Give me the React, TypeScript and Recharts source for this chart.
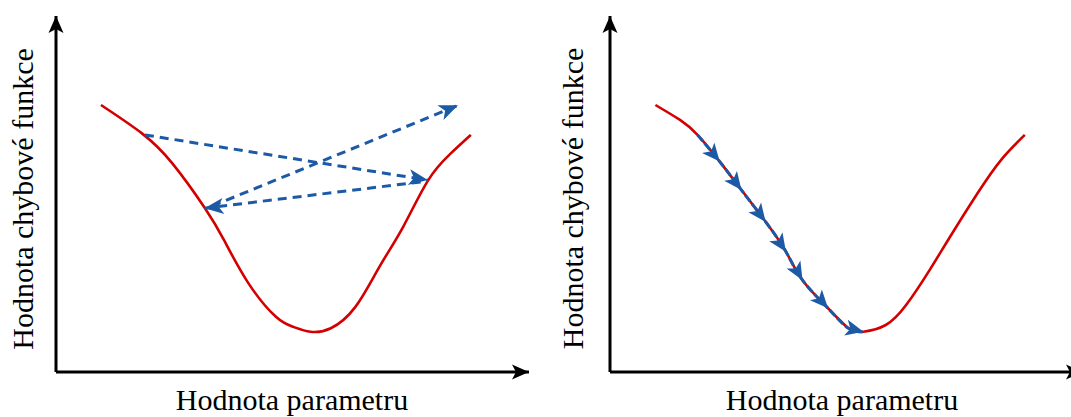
import React from 'react';
import { LineChart, Line, XAxis, YAxis, ReferenceDot, Label } from 'recharts';

const X_LABEL = 'Hodnota parametru';
const Y_LABEL = 'Hodnota chybové funkce';

// Left panel: loss curve (axis units 0..100)
const leftCurveX = [9.5, 18.1, 24.6, 31.5, 35.5, 40.7, 46.5, 50.1, 53.8, 58.1, 63.3, 68.4, 73.4, 78.6, 83.3, 87.7];
const leftCurveY = [75.0, 67.1, 58.6, 46.0, 37.1, 24.9, 15.5, 12.7, 11.3, 12.3, 18.3, 29.6, 40.8, 53.7, 61.2, 66.6];

// Left panel: jumping steps (start -> end)
const jump1X = [18.8, 78.6];
const jump1Y = [66.6, 53.9];
const jump2X = [77.1, 31.4];
const jump2Y = [53.4, 46.0];
const jump3X = [33.0, 85.0];
const jump3Y = [46.6, 74.9];

// Right panel: loss curve
const rightCurveX = [9.6, 14.8, 18.5, 23.2, 27.8, 32.9, 37.2, 40.7, 46.1, 50.4, 53.6, 58.3, 62.6, 67.6, 71.9, 77.7, 82.7, 87.7];
const rightCurveY = [75.0, 70.8, 66.6, 59.1, 51.1, 42.2, 33.8, 25.8, 17.9, 12.3, 11.3, 13.2, 18.8, 28.7, 38.0, 50.2, 59.6, 66.6];

// Right panel: small descent steps (arrowhead positions) and path start
const descentStart = 18.5;
const descentSteps = [23.2, 27.8, 32.9, 37.2, 40.7, 46.1, 53.6];

const RED = '#d40000';
const BLUE = '#1c5aa6';
const FONT = '"Liberation Serif", "Times New Roman", serif';

const toPts = (xs: number[], ys: number[]) => xs.map((x, i) => ({ x, y: ys[i] }));

const leftCurve = toPts(leftCurveX, leftCurveY);
const rightCurve = toPts(rightCurveX, rightCurveY);
const jumps = [toPts(jump1X, jump1Y), toPts(jump2X, jump2Y), toPts(jump3X, jump3Y)];
const descentPath = rightCurve.filter(
  (p) => p.x >= descentStart && p.x <= descentSteps[descentSteps.length - 1]
);

function arrowPath(tx: number, ty: number, ux: number, uy: number, L: number, w: number, notch: number) {
  const nx = -uy;
  const ny = ux;
  const bx = tx - L * ux;
  const by = ty - L * uy;
  const p1x = bx + w * nx;
  const p1y = by + w * ny;
  const p2x = tx - (L - notch) * ux;
  const p2y = ty - (L - notch) * uy;
  const p3x = bx - w * nx;
  const p3y = by - w * ny;
  return `M${tx},${ty}L${p1x},${p1y}L${p2x},${p2y}L${p3x},${p3y}Z`;
}

function makeArrowDot(
  color: string,
  L: number,
  w: number,
  notch: number,
  shouldDraw: (payload: any, index: number) => boolean
) {
  const prev: Record<number, { x: number; y: number }> = {};
  return (props: any) => {
    const { cx, cy, index, payload } = props;
    prev[index] = { x: cx, y: cy };
    const key = `arrow-${index}`;
    if (index === 0 || !shouldDraw(payload, index) || cx == null || cy == null) return <g key={key} />;
    let pp = prev[index - 1];
    if (props.points && props.points[index - 1]) {
      pp = { x: props.points[index - 1].x, y: props.points[index - 1].y };
    }
    if (!pp) return <g key={key} />;
    const dx = cx - pp.x;
    const dy = cy - pp.y;
    const len = Math.sqrt(dx * dx + dy * dy) || 1;
    return <path key={key} d={arrowPath(cx, cy, dx / len, dy / len, L, w, notch)} fill={color} stroke="none" />;
  };
}

const axisArrow = (ux: number, uy: number) => (p: any) => (
  <path d={arrowPath(p.cx, p.cy, ux, uy, 17, 7.5, 4)} fill="#000" stroke="none" />
);

const makeXLabel = (dx: number, gap: number) => (props: any) => {
  const vb = props.viewBox || {};
  const x = (vb.x ?? 0) + (vb.width ?? 0) / 2 + dx;
  const y = (vb.y ?? 0) + gap;
  return (
    <text x={x} y={y} textAnchor="middle" fontFamily={FONT} fontSize={30} fill="#000">
      {X_LABEL}
    </text>
  );
};

const makeYLabel = (gap: number, dy: number) => (props: any) => {
  const vb = props.viewBox || {};
  const x = (vb.x ?? 0) + (vb.width ?? 0) - gap;
  const y = (vb.y ?? 0) + (vb.height ?? 0) / 2 + dy;
  return (
    <text
      x={x}
      y={y}
      textAnchor="middle"
      fontFamily={FONT}
      fontSize={30}
      fill="#000"
      transform={`rotate(-90, ${x}, ${y})`}
    >
      {Y_LABEL}
    </text>
  );
};

const W = 535;
const H = 417;
const MARGIN = { top: 16, right: 6, bottom: 0, left: 0 };
const AXIS_H = 45;
const AXIS_W = 56;

function LeftPanel() {
  return (
    <LineChart width={W} height={H} margin={MARGIN}>
      <XAxis
        type="number"
        dataKey="x"
        domain={[0, 100]}
        height={AXIS_H}
        tick={false}
        tickLine={false}
        axisLine={{ stroke: '#000', strokeWidth: 3 }}
      >
        <Label content={makeXLabel(-0.5, 38)} />
      </XAxis>
      <YAxis
        type="number"
        dataKey="y"
        domain={[0, 100]}
        width={AXIS_W}
        tick={false}
        tickLine={false}
        axisLine={{ stroke: '#000', strokeWidth: 3 }}
      >
        <Label content={makeYLabel(23.5, 5)} />
      </YAxis>
      <Line
        data={leftCurve}
        dataKey="y"
        type="natural"
        stroke={RED}
        strokeWidth={2.6}
        dot={false}
        activeDot={false}
        isAnimationActive={false}
      />
      {jumps.map((pts, i) => (
        <Line
          key={`jump-${i}`}
          data={pts}
          dataKey="y"
          type="linear"
          stroke={BLUE}
          strokeWidth={3}
          strokeDasharray="9 6"
          dot={makeArrowDot(BLUE, 19, 8, 5, (_p, idx) => idx === pts.length - 1)}
          activeDot={false}
          isAnimationActive={false}
        />
      ))}
      <ReferenceDot x={100} y={0} r={0} ifOverflow="visible" shape={axisArrow(1, 0)} />
      <ReferenceDot x={0} y={100} r={0} ifOverflow="visible" shape={axisArrow(0, -1)} />
    </LineChart>
  );
}

function RightPanel() {
  return (
    <LineChart width={W} height={H} margin={MARGIN}>
      <XAxis
        type="number"
        dataKey="x"
        domain={[0, 100]}
        height={AXIS_H}
        tick={false}
        tickLine={false}
        axisLine={{ stroke: '#000', strokeWidth: 3 }}
      >
        <Label content={makeXLabel(-4.5, 38)} />
      </XAxis>
      <YAxis
        type="number"
        dataKey="y"
        domain={[0, 100]}
        width={AXIS_W}
        tick={false}
        tickLine={false}
        axisLine={{ stroke: '#000', strokeWidth: 3 }}
      >
        <Label content={makeYLabel(27, 4.5)} />
      </YAxis>
      <Line
        data={rightCurve}
        dataKey="y"
        type="natural"
        stroke={RED}
        strokeWidth={2.6}
        dot={false}
        activeDot={false}
        isAnimationActive={false}
      />
      <Line
        data={descentPath}
        dataKey="y"
        type="natural"
        stroke={BLUE}
        strokeWidth={3}
        strokeDasharray="8 3"
        dot={makeArrowDot(BLUE, 18, 8, 4.5, (p) => descentSteps.includes(p.x))}
        activeDot={false}
        isAnimationActive={false}
      />
      <ReferenceDot x={100} y={0} r={0} ifOverflow="visible" shape={axisArrow(1, 0)} />
      <ReferenceDot x={0} y={100} r={0} ifOverflow="visible" shape={axisArrow(0, -1)} />
    </LineChart>
  );
}

export default function App() {
  return (
    <div
      style={{
        position: 'absolute',
        left: 0,
        top: 0,
        width: 1071,
        height: 417,
        overflow: 'hidden',
        background: '#fff',
      }}
    >
      <div style={{ position: 'absolute', left: 0, top: 0 }}>
        <LeftPanel />
      </div>
      <div style={{ position: 'absolute', left: 554, top: 0 }}>
        <RightPanel />
      </div>
    </div>
  );
}
